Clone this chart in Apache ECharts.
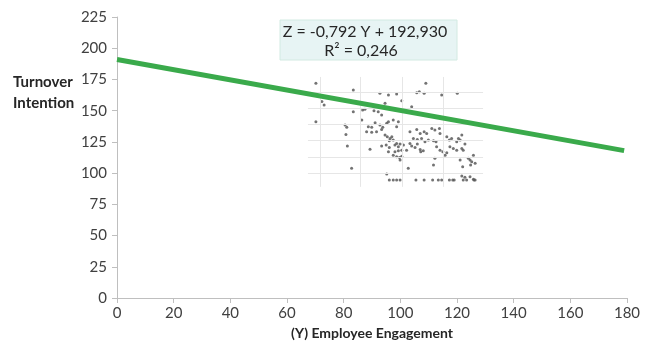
<!DOCTYPE html>
<html>
<head>
<meta charset="utf-8">
<script src="https://cdn.jsdelivr.net/npm/echarts@6/dist/echarts.min.js"></script>
<style>
html,body{margin:0;padding:0;background:#fff;}
#c{width:650px;height:345px;}
</style>
</head>
<body>
<div id="c"></div>
<script>
// (Y) Employee Engagement values of the scatter points
const engagement = [
  70.2,83.4,109.0,92.8,95.8,98.7,105.8,106.7,108.4,114.6,120.1,100.5,72.3,73.1,94.6,104.0,
  70.2,83.4,86.7,87.5,90.7,92.2,93.4,80.5,81.1,86.4,88.7,89.9,91.1,92.8,93.8,93.4,95.2,95.8,97.5,99.3,98.7,
  80.8,88.1,89.9,91.6,81.3,89.3,82.8,
  94.6,95.4,96.4,97.0,96.1,97.5,93.4,95.0,96.1,98.1,98.7,99.3,99.9,101.1,
  95.8,98.1,99.3,100.5,97.5,98.7,99.7,100.5,99.9,102.2,103.4,104.0,105.2,106.0,107.0,107.2,108.1,
  103.4,105.8,107.0,108.4,109.3,111.1,112.2,113.8,114.0,
  104.6,106.0,107.5,108.7,109.9,111.7,112.6,112.8,114.0,115.0,115.8,116.4,112.2,111.7,102.8,
  116.4,117.3,118.1,119.9,120.5,121.7,121.1,122.8,121.7,122.2,117.5,118.7,119.9,
  121.1,122.0,124.0,124.6,125.2,125.8,124.8,126.4,95.2,
  96.1,97.5,98.7,99.9,105.5,108.4,111.4,113.4,114.6,117.3,118.5,119.0,122.2,123.4,126.0,126.4,
  121.7,122.8,124.6,125.8
];
// Turnover Intention values of the scatter points
const turnover = [
  171.9,166.5,171.9,163.9,162.5,163.3,164.4,165.2,163.9,162.5,163.9,158.0,157.4,154.5,155.9,153.2,
  141.2,149.2,150.5,151.1,150.0,149.2,146.5,138.5,136.7,142.5,137.1,136.7,140.4,138.5,136.7,135.0,139.9,141.2,142.5,141.2,137.1,
  131.0,133.2,132.7,133.2,121.7,119.1,103.8,
  130.5,129.1,127.8,129.1,125.9,126.5,121.7,122.5,120.6,122.5,123.8,121.1,123.3,122.5,
  117.1,117.1,117.9,118.4,114.4,113.1,112.6,113.6,110.4,118.4,123.8,121.7,120.6,123.3,119.0,117.1,117.9,
  133.1,135.0,131.8,133.1,131.8,135.8,134.5,135.8,131.8,
  127.8,127.0,127.8,125.1,126.5,125.9,125.1,121.1,118.4,117.1,114.4,116.3,111.8,106.4,103.8,
  129.1,126.5,127.8,125.1,127.8,130.5,126.5,123.3,119.8,118.4,121.1,119.8,118.4,
  110.4,105.1,111.8,110.4,109.1,114.4,106.4,107.8,99.2,
  94.4,94.4,94.4,94.4,94.4,94.4,94.4,94.4,94.4,94.4,94.4,94.4,94.4,94.4,94.4,94.4,
  97.6,96.6,97.1,95.0
];
// trend line as drawn
const trendX = [0, 179];
const trendY = [191, 118];
// faint grid of the embedded scatter picture (data units)
const innerGridX = [71.7, 85.8, 100.6, 115.1];
const innerGridY = [164.9, 152.1, 139.3, 126.5, 112.9, 100.1];
const innerXRange = [67.4, 129.2];
const innerYRange = [89, 177];
const xTicks = {min: 0, max: 180, step: 20};
const yTicks = {min: 0, max: 225, step: 25};
const equationText = 'Z = -0,792 Y + 192,930';
const r2Text = 'R² = 0,246';

const points = engagement.map((x, i) => [x, turnover[i]]);
const trend = trendX.map((x, i) => [x, trendY[i]]);
const gridLines = [];
innerGridX.forEach(x => gridLines.push([{coord: [x, innerYRange[0]]}, {coord: [x, innerYRange[1]]}]));
innerGridY.forEach(y => gridLines.push([{coord: [innerXRange[0], y]}, {coord: [innerXRange[1], y]}]));

const FONT = 'Lato, "Liberation Sans", Arial, sans-serif';
const chart = echarts.init(document.getElementById('c'), null, {renderer: 'canvas'});
chart.setOption({
  animation: false,
  backgroundColor: '#ffffff',
  grid: {left: 117, right: 23, top: 17, bottom: 47},
  xAxis: {
    type: 'value', min: xTicks.min, max: xTicks.max, interval: xTicks.step,
    axisLine: {show: true, lineStyle: {color: '#bfbfbf'}},
    axisTick: {show: true, length: 5, lineStyle: {color: '#bfbfbf'}},
    axisLabel: {fontSize: 15, color: '#404040', margin: 8, fontFamily: FONT},
    splitLine: {show: false}
  },
  yAxis: {
    type: 'value', min: yTicks.min, max: yTicks.max, interval: yTicks.step,
    axisLine: {show: true, lineStyle: {color: '#bfbfbf'}},
    axisTick: {show: true, length: 5, lineStyle: {color: '#bfbfbf'}},
    axisLabel: {fontSize: 15, color: '#404040', margin: 10, fontFamily: FONT},
    splitLine: {show: false}
  },
  graphic: [
    {type: 'text', left: 13, top: 75, style: {text: 'Turnover', font: 'bold 15px ' + FONT, fill: '#262626'}},
    {type: 'text', left: 13, top: 96, style: {text: 'Intention', font: 'bold 15px ' + FONT, fill: '#262626'}},
    {type: 'text', x: 372, y: 333, style: {text: '(Y) Employee Engagement', font: 'bold 14px ' + FONT, fill: '#262626', textAlign: 'center', textVerticalAlign: 'middle'}},
    {type: 'rect', shape: {x: 280, y: 20, width: 177, height: 40}, style: {fill: '#e7f4f4', stroke: '#d2eae2', lineWidth: 1}, z: 10},
    {type: 'text', x: 365, y: 32, style: {text: equationText, font: '16px ' + FONT, fill: '#262626', textAlign: 'center', textVerticalAlign: 'middle'}, z: 11},
    {type: 'text', x: 361, y: 51, style: {text: r2Text, font: '16px ' + FONT, fill: '#262626', textAlign: 'center', textVerticalAlign: 'middle'}, z: 11}
  ],
  series: [
    {
      type: 'line', data: [], z: 1, silent: true,
      markLine: {
        silent: true, symbol: ['none', 'none'], label: {show: false},
        lineStyle: {color: '#e6e6e6', width: 1, type: 'solid'},
        data: gridLines
      }
    },
    {
      type: 'scatter', data: points, symbolSize: 3, z: 3,
      itemStyle: {color: '#5a5a5a', opacity: 0.85}
    },
    {
      type: 'line', data: trend, showSymbol: false, z: 5,
      lineStyle: {color: '#3aaa4b', width: 5}
    }
  ]
});
</script>
</body>
</html>
